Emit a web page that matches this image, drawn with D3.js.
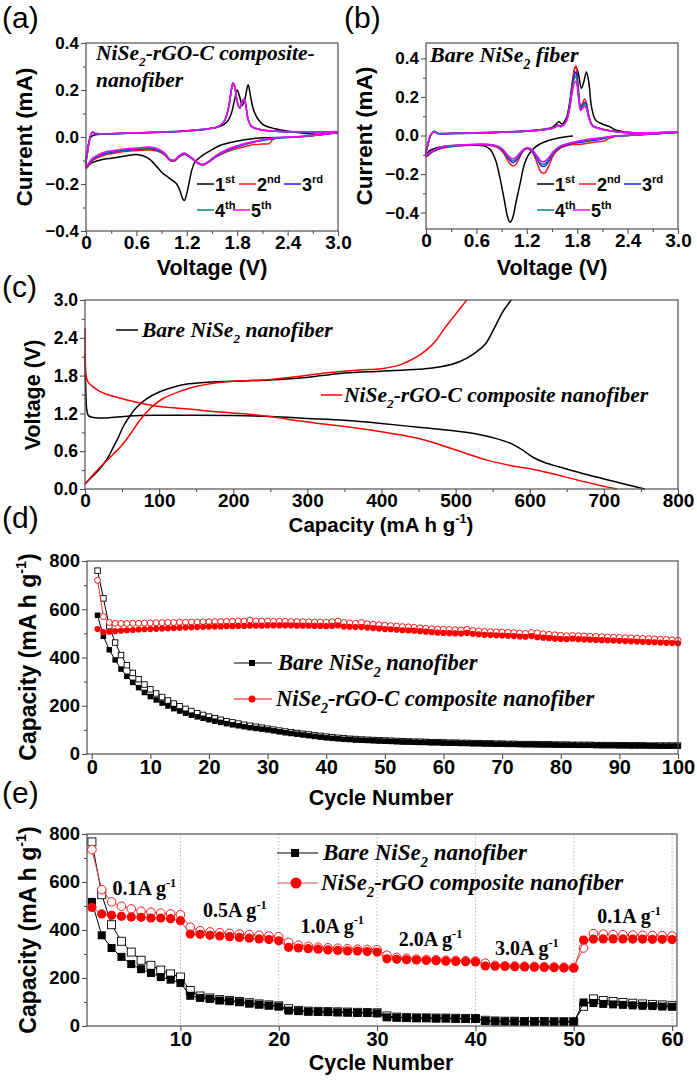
<!DOCTYPE html>
<html><head><meta charset="utf-8">
<script src="https://cdn.jsdelivr.net/npm/d3@7"></script>
<style>
body{margin:0;background:#fff}
svg text{font-family:Arial,"Liberation Sans",sans-serif}
</style></head><body>
<svg id="fig" width="697" height="1081"></svg>
<script>
// ---------------- DATA ----------------
// Panel (a): NiSe2-rGO-C composite CV, cycles 1..5 : [voltage V, current mA]
const cvA1=[[2.3,-0.002],[2.0,-0.006],[1.76,-0.02],[1.6,-0.035],[1.52,-0.05],[1.4,-0.075],[1.3,-0.105],[1.26,-0.14],[1.23,-0.19],[1.2,-0.24],[1.17,-0.27],[1.15,-0.262],[1.12,-0.23],[1.08,-0.2],[1.04,-0.188],[0.98,-0.172],[0.9,-0.15],[0.84,-0.125],[0.76,-0.095],[0.68,-0.08],[0.6,-0.074],[0.45,-0.082],[0.3,-0.09],[0.17,-0.098],[0.08,-0.108],[0.0,-0.125],
 [0.02,-0.05],[0.05,-0.005],[0.08,0.006],[0.15,0.011],[0.4,0.015],[0.8,0.02],[1.2,0.027],[1.45,0.035],[1.6,0.046],[1.68,0.065],[1.73,0.1],[1.77,0.16],[1.8,0.2],[1.83,0.17],[1.86,0.135],[1.89,0.16],[1.93,0.222],[1.96,0.17],[2.0,0.11],[2.06,0.07],[2.12,0.05],[2.25,0.035],[2.45,0.022],[2.75,0.012],[3.0,0.017]];
const cvA2=[[3.0,0.02],[2.8,0.01],[2.5,0.0],[2.28,-0.003],[2.22,-0.012],[2.18,-0.028],[2.1,-0.03],[2.0,-0.032],[1.85,-0.045],[1.7,-0.06],[1.55,-0.085],[1.45,-0.11],[1.39,-0.12],[1.33,-0.112],[1.25,-0.09],[1.17,-0.075],[1.11,-0.085],[1.05,-0.103],[1.0,-0.1],[0.93,-0.075],[0.85,-0.06],[0.75,-0.055],[0.6,-0.058],[0.4,-0.065],[0.2,-0.08],[0.08,-0.1],[0,-0.135],
 [0.02,-0.06],[0.05,0.0],[0.08,0.02],[0.11,0.015],[0.2,0.013],[0.5,0.016],[0.9,0.02],[1.2,0.025],[1.45,0.034],[1.58,0.045],[1.65,0.07],[1.7,0.13],[1.73,0.2],[1.75,0.226],[1.77,0.213],[1.8,0.15],[1.83,0.125],[1.86,0.15],[1.88,0.16],[1.9,0.14],[1.93,0.075],[1.97,0.045],[2.1,0.03],[2.4,0.022],[2.8,0.02],[3.0,0.022]];
const cvA3=[[3.0,0.02],[2.8,0.01],[2.5,0.0],[2.3,-0.004],[2.15,-0.012],[2.0,-0.022],[1.85,-0.036],[1.7,-0.055],[1.55,-0.082],[1.45,-0.108],[1.39,-0.118],[1.33,-0.11],[1.25,-0.088],[1.17,-0.072],[1.11,-0.082],[1.05,-0.1],[1.0,-0.097],[0.93,-0.07],[0.85,-0.055],[0.75,-0.05],[0.6,-0.053],[0.4,-0.06],[0.2,-0.074],[0.08,-0.095],[0,-0.128],
 [0.02,-0.06],[0.05,0.0],[0.08,0.02],[0.11,0.015],[0.2,0.013],[0.5,0.016],[0.9,0.02],[1.2,0.025],[1.45,0.034],[1.58,0.045],[1.65,0.07],[1.7,0.13],[1.73,0.2],[1.75,0.228],[1.77,0.215],[1.8,0.15],[1.83,0.123],[1.86,0.15],[1.88,0.16],[1.9,0.14],[1.93,0.075],[1.97,0.045],[2.1,0.03],[2.4,0.022],[2.8,0.02],[3.0,0.022]];
const cvA4=[[3.0,0.02],[2.8,0.01],[2.5,0.0],[2.3,-0.003],[2.15,-0.01],[2.0,-0.02],[1.85,-0.034],[1.7,-0.052],[1.55,-0.08],[1.45,-0.107],[1.39,-0.118],[1.33,-0.11],[1.25,-0.087],[1.17,-0.07],[1.11,-0.08],[1.05,-0.099],[1.0,-0.096],[0.93,-0.068],[0.85,-0.052],[0.75,-0.046],[0.6,-0.05],[0.4,-0.057],[0.2,-0.07],[0.08,-0.093],[0,-0.126],
 [0.02,-0.06],[0.05,0.0],[0.08,0.02],[0.11,0.015],[0.2,0.013],[0.5,0.016],[0.9,0.02],[1.2,0.025],[1.45,0.034],[1.58,0.045],[1.65,0.07],[1.7,0.13],[1.73,0.2],[1.75,0.23],[1.77,0.216],[1.8,0.15],[1.83,0.122],[1.86,0.15],[1.88,0.161],[1.9,0.14],[1.93,0.075],[1.97,0.045],[2.1,0.03],[2.4,0.022],[2.8,0.02],[3.0,0.022]];
const cvA5=[[3.0,0.021],[2.8,0.011],[2.5,0.001],[2.3,-0.002],[2.15,-0.009],[2.0,-0.019],[1.85,-0.032],[1.7,-0.05],[1.55,-0.078],[1.45,-0.106],[1.39,-0.117],[1.33,-0.109],[1.25,-0.086],[1.17,-0.068],[1.11,-0.079],[1.05,-0.098],[1.0,-0.095],[0.93,-0.066],[0.85,-0.05],[0.75,-0.043],[0.6,-0.047],[0.4,-0.054],[0.2,-0.067],[0.08,-0.09],[0,-0.124],
 [0.02,-0.06],[0.05,0.0],[0.08,0.021],[0.11,0.016],[0.2,0.014],[0.5,0.017],[0.9,0.021],[1.2,0.026],[1.45,0.035],[1.58,0.046],[1.65,0.07],[1.7,0.13],[1.73,0.2],[1.75,0.232],[1.77,0.218],[1.8,0.15],[1.83,0.122],[1.86,0.15],[1.88,0.162],[1.9,0.14],[1.93,0.075],[1.97,0.045],[2.1,0.03],[2.4,0.023],[2.8,0.021],[3.0,0.023]];

// Panel (b): bare NiSe2 fiber CV, cycles 1..5
const cvB1=[[1.75,-0.003],[1.55,-0.015],[1.4,-0.035],[1.3,-0.06],[1.22,-0.1],[1.17,-0.15],[1.12,-0.25],[1.07,-0.35],[1.03,-0.43],[1.0,-0.45],[0.97,-0.42],[0.93,-0.33],[0.88,-0.22],[0.83,-0.13],[0.77,-0.075],[0.7,-0.055],[0.55,-0.05],[0.4,-0.05],[0.25,-0.055],[0.12,-0.065],[0.04,-0.08],[0,-0.1],
 [0.02,-0.05],[0.06,0.005],[0.1,0.022],[0.14,0.012],[0.3,0.012],[0.7,0.016],[1.1,0.022],[1.4,0.033],[1.5,0.042],[1.55,0.06],[1.58,0.072],[1.62,0.06],[1.67,0.09],[1.71,0.17],[1.75,0.3],[1.78,0.355],[1.81,0.33],[1.85,0.245],[1.88,0.28],[1.91,0.33],[1.94,0.27],[1.97,0.15],[2.02,0.08],[2.1,0.06],[2.19,0.045],[2.25,0.03],[2.4,0.017],[2.7,0.01],[3.0,0.016]];
const cvB2=[[3.0,0.018],[2.7,0.008],[2.4,0.0],[2.25,-0.005],[2.18,-0.015],[2.12,-0.028],[2.0,-0.035],[1.85,-0.045],[1.7,-0.05],[1.6,-0.065],[1.52,-0.1],[1.46,-0.16],[1.41,-0.195],[1.37,-0.19],[1.32,-0.14],[1.27,-0.09],[1.22,-0.07],[1.17,-0.075],[1.12,-0.11],[1.07,-0.15],[1.03,-0.158],[0.98,-0.135],[0.92,-0.09],[0.85,-0.062],[0.75,-0.05],[0.55,-0.05],[0.35,-0.055],[0.2,-0.065],[0.08,-0.085],[0,-0.11],
 [0.02,-0.05],[0.06,0.005],[0.1,0.02],[0.14,0.01],[0.3,0.01],[0.7,0.014],[1.1,0.02],[1.4,0.03],[1.52,0.04],[1.57,0.055],[1.61,0.05],[1.66,0.07],[1.7,0.13],[1.74,0.26],[1.77,0.35],[1.785,0.362],[1.8,0.32],[1.82,0.22],[1.84,0.15],[1.86,0.165],[1.89,0.19],[1.91,0.17],[1.94,0.1],[1.98,0.055],[2.05,0.04],[2.2,0.025],[2.5,0.013],[3.0,0.018]];
const cvB3=[[3.0,0.018],[2.7,0.008],[2.4,0.0],[2.25,-0.004],[2.15,-0.012],[2.08,-0.02],[2.0,-0.025],[1.85,-0.035],[1.7,-0.045],[1.6,-0.06],[1.52,-0.09],[1.46,-0.135],[1.41,-0.16],[1.37,-0.156],[1.32,-0.12],[1.27,-0.083],[1.22,-0.067],[1.17,-0.072],[1.12,-0.1],[1.07,-0.132],[1.03,-0.14],[0.98,-0.12],[0.92,-0.082],[0.85,-0.058],[0.75,-0.048],[0.55,-0.048],[0.35,-0.053],[0.2,-0.062],[0.08,-0.082],[0,-0.105],
 [0.02,-0.05],[0.06,0.005],[0.1,0.02],[0.14,0.01],[0.3,0.01],[0.7,0.014],[1.1,0.02],[1.4,0.03],[1.52,0.04],[1.57,0.053],[1.61,0.048],[1.66,0.068],[1.7,0.125],[1.74,0.245],[1.77,0.32],[1.785,0.33],[1.8,0.29],[1.82,0.2],[1.84,0.14],[1.86,0.152],[1.89,0.172],[1.91,0.155],[1.94,0.095],[1.98,0.053],[2.05,0.038],[2.2,0.024],[2.5,0.013],[3.0,0.018]];
const cvB4=[[3.0,0.018],[2.7,0.008],[2.4,0.0],[2.25,-0.003],[2.15,-0.01],[2.0,-0.02],[1.85,-0.03],[1.7,-0.042],[1.6,-0.057],[1.52,-0.085],[1.46,-0.125],[1.41,-0.148],[1.37,-0.145],[1.32,-0.112],[1.27,-0.08],[1.22,-0.066],[1.17,-0.07],[1.12,-0.095],[1.07,-0.122],[1.03,-0.13],[0.98,-0.112],[0.92,-0.078],[0.85,-0.056],[0.75,-0.047],[0.55,-0.047],[0.35,-0.052],[0.2,-0.06],[0.08,-0.08],[0,-0.102],
 [0.02,-0.05],[0.06,0.005],[0.1,0.02],[0.14,0.01],[0.3,0.01],[0.7,0.014],[1.1,0.02],[1.4,0.03],[1.52,0.04],[1.57,0.052],[1.61,0.047],[1.66,0.066],[1.7,0.12],[1.74,0.235],[1.77,0.3],[1.785,0.31],[1.8,0.275],[1.82,0.19],[1.84,0.135],[1.86,0.145],[1.89,0.162],[1.91,0.148],[1.94,0.092],[1.98,0.052],[2.05,0.038],[2.2,0.024],[2.5,0.013],[3.0,0.018]];
const cvB5=[[3.0,0.019],[2.7,0.009],[2.4,0.001],[2.25,-0.002],[2.15,-0.008],[2.0,-0.016],[1.85,-0.026],[1.7,-0.04],[1.6,-0.054],[1.52,-0.08],[1.46,-0.115],[1.41,-0.135],[1.37,-0.133],[1.32,-0.105],[1.27,-0.077],[1.22,-0.064],[1.17,-0.068],[1.12,-0.09],[1.07,-0.113],[1.03,-0.12],[0.98,-0.105],[0.92,-0.074],[0.85,-0.054],[0.75,-0.046],[0.55,-0.046],[0.35,-0.05],[0.2,-0.058],[0.08,-0.078],[0,-0.1],
 [0.02,-0.05],[0.06,0.006],[0.1,0.021],[0.14,0.011],[0.3,0.011],[0.7,0.015],[1.1,0.021],[1.4,0.031],[1.52,0.041],[1.57,0.051],[1.61,0.046],[1.66,0.064],[1.7,0.115],[1.74,0.22],[1.77,0.275],[1.785,0.282],[1.8,0.255],[1.82,0.18],[1.84,0.13],[1.86,0.138],[1.89,0.152],[1.91,0.14],[1.94,0.088],[1.98,0.05],[2.05,0.037],[2.2,0.024],[2.5,0.014],[3.0,0.019]];

// Panel (c): charge/discharge profiles : [capacity mAh/g, voltage V]
const bareDis=[[0,2.15],[1,1.6],[2.5,1.25],[5,1.16],[15,1.13],[30,1.13],[60,1.16],[100,1.17],[150,1.17],[200,1.165],[250,1.15],[300,1.12],[350,1.09],[400,1.04],[450,0.98],[500,0.92],[530,0.87],[555,0.8],[575,0.72],[590,0.62],[605,0.5],[620,0.42],[640,0.35],[670,0.25],[700,0.16],[730,0.07],[755,0.0]];
const bareCha=[[0,0.08],[10,0.2],[20,0.32],[30,0.48],[38,0.66],[45,0.82],[52,1.0],[60,1.15],[70,1.3],[83,1.43],[100,1.54],[120,1.62],[140,1.67],[170,1.7],[200,1.71],[250,1.73],[290,1.76],[320,1.8],[350,1.84],[400,1.87],[450,1.9],[480,1.94],[505,2.02],[525,2.15],[540,2.3],[552,2.55],[563,2.8],[575,3.0]];
const compDis=[[0,2.55],[0.5,2.0],[1.5,1.8],[4,1.7],[11,1.62],[20,1.55],[30,1.5],[45,1.45],[61,1.4],[80,1.35],[106,1.3],[140,1.27],[173,1.23],[218,1.19],[250,1.15],[290,1.08],[330,1.02],[365,0.97],[400,0.91],[425,0.86],[450,0.8],[485,0.68],[515,0.56],[545,0.45],[575,0.37],[605,0.31],[635,0.23],[665,0.14],[690,0.07],[705,0.03],[718,0.0]];
const compCha=[[0,0.08],[20,0.34],[38,0.55],[50,0.7],[61,0.87],[72,1.06],[83,1.22],[95,1.35],[106,1.44],[128,1.55],[151,1.63],[173,1.68],[200,1.71],[218,1.72],[250,1.74],[290,1.79],[330,1.85],[370,1.89],[400,1.91],[425,1.97],[445,2.08],[460,2.2],[473,2.35],[485,2.55],[495,2.7],[505,2.85],[515,3.0]];

// Panel (d): cycling, cycles 1..100 (mAh/g)
const bareCycD=[575,488,432,390,352,322,297,275,255,238,224,211,199,188,178,169,161,154,148,142,136,131,126,121,117,113,109,106,103,100,96,92,88,85,82,79,76,73,70,67,65,63,61,60,58,57,56,55,54,53,52,51,50,50,49,48,48,47,47,46,45,45,44,44,43,43,42,42,41,41,40,40,40,39,39,39,38,38,38,37,37,37,36,36,36,36,35,35,35,35,35,34,34,34,34,34,33,33,33,33];
const bareCycC=[760,645,530,462,410,368,336,310,288,268,251,236,222,209,198,187,178,169,162,155,148,142,136,131,126,121,117,113,109,105,101,97,93,90,87,84,81,78,75,72,70,67,65,63,62,60,59,58,57,56,55,54,53,52,51,51,50,49,49,48,47,47,46,46,45,45,44,44,43,43,42,42,41,41,41,40,40,40,39,39,39,38,38,38,38,37,37,37,37,36,36,36,36,36,35,35,35,35,35,35];
const compCycD=[518,505,507,509,511,513,514,516,517,518,519,520,521,522,523,524,525,526,527,528,529,529,530,530,531,531,532,532,532,533,533,533,533,533,532,532,532,531,531,530,531,533,528,527,526,526,524,522,520,518,517,515,513,512,511,509,507,505,503,502,501,500,499,502,498,496,494,493,492,491,490,489,487,486,489,484,482,480,478,477,476,478,476,475,474,473,472,471,470,469,468,467,466,465,464,463,462,461,460,459];
const compCycC=[720,570,545,542,541,541,542,542,543,543,544,544,545,545,546,546,547,547,548,548,549,549,550,550,551,551,555,551,551,551,550,550,550,549,549,548,548,547,547,546,548,551,545,543,542,545,540,538,536,534,532,530,528,527,525,523,521,519,518,517,516,515,514,517,512,510,508,507,506,505,504,503,501,500,504,502,498,496,494,492,490,491,490,489,488,487,486,485,484,483,482,481,480,479,478,477,476,475,473,471];

// Panel (e): rate capability, cycles 1..60 (mAh/g)
const bareRateD=[517,378,325,288,258,237,221,204,193,179,126,117,113,106,103,99,93,89,85,81,64,62,60,59,58,57,56,55,54,53,36,35,34,33,33,32,32,31,30,30,21,20,19,19,18,18,18,17,17,17,98,96,92,90,88,86,84,83,81,80];
const bareRateC=[767,547,422,353,308,274,253,233,217,204,148,125,117,110,106,102,97,92,88,84,72,65,62,61,60,59,58,57,56,55,42,37,35,34,34,33,33,32,31,31,24,21,20,20,19,19,19,18,18,18,82,113,106,102,98,95,92,90,88,86];
const compRateD=[494,467,461,457,454,453,450,450,447,439,383,382,378,375,372,369,366,363,360,355,328,325,322,320,317,315,313,312,310,308,280,278,276,275,273,272,270,269,268,267,250,249,248,247,246,245,244,243,242,241,358,362,363,363,363,362,362,361,361,360];
const compRateC=[735,568,517,499,488,478,474,470,467,464,412,397,392,389,386,383,381,378,375,372,348,337,332,328,326,324,322,320,319,318,295,286,282,279,277,276,274,273,272,271,262,253,251,250,249,248,247,246,245,244,325,385,383,381,380,379,378,377,376,375];
const rateLabels=[["0.1A g",3.1,546],["0.5A g",12.3,454],["1.0A g",22.2,388],["2.0A g",32.2,333],["3.0A g",42.0,296],["0.1A g",52.4,429]];

// tick labels / values
const cvXTicks=[0,0.6,1.2,1.8,2.4,3.0], cvXMinor=[0.3,0.9,1.5,2.1,2.7];
const cvYTicks=[-0.4,-0.2,0,0.2,0.4], cvYMinor=[-0.3,-0.1,0.1,0.3];
const gcdXTicks=[0,100,200,300,400,500,600,700,800], gcdXMinor=[50,150,250,350,450,550,650,750];
const gcdYTicks=[0,0.6,1.2,1.8,2.4,3.0], gcdYMinor=[0.3,0.9,1.5,2.1,2.7];
const cycXTicks=[0,10,20,30,40,50,60,70,80,90,100];
const capYTicks=[0,200,400,600,800], capYMinor=[100,300,500,700];
const rateXTicks=[10,20,30,40,50,60];
const cycleNames=[["1","st"],["2","nd"],["3","rd"],["4","th"],["5","th"]];
const cycleColors=["#000000","#ff1a1a","#1a1aff","#00897b","#ff00ff"];

// ---------------- DRAWING ----------------
const svg=d3.select('#fig');
svg.append('rect').attr('width',697).attr('height',1081).attr('fill','#fff');
const SERIF='"Times New Roman","Liberation Serif",serif';
const FRAME='#505050';

function rich(g,x,y,parts,o){
  const t=g.append('text').attr('x',x).attr('y',y)
    .attr('font-size',o.size).attr('font-weight',o.weight||'bold')
    .attr('font-style',o.style||'normal').attr('fill',o.fill||'#000')
    .attr('text-anchor',o.anchor||'start');
  if(o.family) t.style('font-family',o.family);
  if(o.rotate) t.attr('transform',`rotate(-90,${x},${y})`);
  let shift=0;
  parts.forEach(p=>{
    const s=typeof p==='string'?{t:p}:p;
    const ts=t.append('tspan').text(s.t);
    let target=0;
    if(s.sub) target=o.size*0.3;
    if(s.sup) target=-o.size*0.42;
    if(s.sub||s.sup) ts.attr('font-size',o.size*0.62);
    ts.attr('dy',target-shift); shift=target;
  });
  return t;
}

function panel(o){
  const g=svg.append('g');
  const x=d3.scaleLinear().domain(o.xd).range([o.L,o.R]);
  const y=d3.scaleLinear().domain(o.yd).range([o.B,o.T]);
  const style=(sel,fs)=>{sel.select('.domain').remove();
    sel.selectAll('line').attr('stroke',FRAME).attr('stroke-width',1.1);
    sel.selectAll('text').attr('font-size',fs).attr('font-weight','bold').attr('fill','#000')
      .style('font-family','Arial,"Liberation Sans",sans-serif');};
  if(o.grid){
    g.selectAll('.grid').data(o.grid).join('line').attr('x1',d=>x(d)).attr('x2',d=>x(d))
      .attr('y1',o.T).attr('y2',o.B).attr('stroke','#b8b8b8').attr('stroke-width',1).attr('stroke-dasharray','1.5,2');
  }
  g.append('g').attr('transform',`translate(0,${o.B})`)
    .call(d3.axisBottom(x).tickValues(o.xt).tickFormat(o.xf).tickSizeOuter(0).tickSize(5).tickPadding(o.xpad!=null?o.xpad:1))
    .call(s=>style(s,o.xfs));
  if(o.xm) g.append('g').attr('transform',`translate(0,${o.B})`)
    .call(d3.axisBottom(x).tickValues(o.xm).tickFormat('').tickSizeOuter(0).tickSize(3)).call(s=>style(s,10));
  g.append('g').attr('transform',`translate(${o.L},0)`)
    .call(d3.axisLeft(y).tickValues(o.yt).tickFormat(o.yf).tickSizeOuter(0).tickSize(5).tickPadding(2))
    .call(s=>style(s,o.yfs));
  if(o.ym) g.append('g').attr('transform',`translate(${o.L},0)`)
    .call(d3.axisLeft(y).tickValues(o.ym).tickFormat('').tickSizeOuter(0).tickSize(3)).call(s=>style(s,10));
  const plot=g.append('g');
  g.append('rect').attr('x',o.L).attr('y',o.T).attr('width',o.R-o.L).attr('height',o.B-o.T)
    .attr('fill','none').attr('stroke',FRAME).attr('stroke-width',1.2);
  return {g,plot,x,y};
}
const f1=d=>d===0?'0':d3.format('.1f')(d);
const f1y=d3.format('.1f');
const fd=d3.format('d');

// ---- panel (a) & (b)
function cvPanel(o,cycles){
  const p=panel(Object.assign({xd:[0,3],xt:cvXTicks,xm:cvXMinor,yt:cvYTicks,ym:cvYMinor,xf:f1,yf:f1y,xfs:19,yfs:17,xpad:0},o));
  const line=d3.line().x(d=>p.x(d[0])).y(d=>p.y(d[1])).curve(d3.curveCatmullRom.alpha(0.5));
  cycles.forEach((c,i)=>p.plot.append('path').attr('d',line(c)).attr('fill','none')
    .attr('stroke',cycleColors[i]).attr('stroke-width',1.5));
  const lx=[[o.L+111,184],[o.L+153,184],[o.L+198,184],[o.L+111,210],[o.L+147,210]];
  cycleNames.forEach((n,i)=>{
    const [x0,y0]=lx[i];
    p.g.append('line').attr('x1',x0).attr('x2',x0+17).attr('y1',y0).attr('y2',y0).attr('stroke',cycleColors[i]).attr('stroke-width',1.5);
    rich(p.g,x0+18,y0+6.5,[n[0],{t:n[1],sup:true}],{size:18});
  });
  rich(p.g,(o.L+o.R)/2,275,['Voltage (V)'],{size:21.5,anchor:'middle'});
  rich(p.g,o.L-54,(o.T+o.B)/2,['Current (mA)'],{size:22.5,anchor:'middle',rotate:true});
  return p;
}
const pa=cvPanel({L:86,R:338,T:43,B:231,yd:[-0.4,0.4]},[cvA1,cvA2,cvA3,cvA4,cvA5]);
rich(pa.g,96,60,['NiSe',{t:'2',sub:true},'-rGO-C composite-'],{size:21.5,style:'italic',family:SERIF});
rich(pa.g,96,87,['nanofiber'],{size:21.5,style:'italic',family:SERIF});
const pb=cvPanel({L:426,R:678,T:43,B:229,yd:[-0.485,0.48]},[cvB1,cvB2,cvB3,cvB4,cvB5]);
rich(pb.g,430,62,['Bare NiSe',{t:'2',sub:true},' fiber'],{size:22,style:'italic',family:SERIF});

// ---- panel (c)
const pc=panel({L:85,R:678,T:300,B:489,xd:[0,800],yd:[0,3],xt:gcdXTicks,xm:gcdXMinor,yt:gcdYTicks,ym:gcdYMinor,xf:fd,yf:f1y,xfs:19,yfs:17.5,xpad:0});
{
  const lineY=d3.line().x(d=>pc.x(d[0])).y(d=>pc.y(d[1])).curve(d3.curveCatmullRom.alpha(0.5));
  [[bareDis,'#000'],[bareCha,'#000'],[compDis,'#ff0000'],[compCha,'#ff0000']].forEach(([d,c])=>
    pc.plot.append('path').attr('d',lineY(d)).attr('fill','none').attr('stroke',c).attr('stroke-width',1.5));
  pc.g.append('line').attr('x1',116).attr('x2',138).attr('y1',330).attr('y2',330).attr('stroke','#000').attr('stroke-width',1.5);
  rich(pc.g,142,337,['Bare NiSe',{t:'2',sub:true},' nanofiber'],{size:21.5,style:'italic',family:SERIF});
  pc.g.append('line').attr('x1',321).attr('x2',342).attr('y1',395).attr('y2',395).attr('stroke','#ff0000').attr('stroke-width',1.5);
  rich(pc.g,344,402,['NiSe',{t:'2',sub:true},'-rGO-C composite nanofiber'],{size:21.5,style:'italic',family:SERIF});
  rich(pc.g,381,532,['Capacity (mA h g',{t:'-1',sup:true},')'],{size:20.5,anchor:'middle'});
  rich(pc.g,40,395,['Voltage (V)'],{size:21.5,anchor:'middle',rotate:true});
}

// marker helpers
function squares(p,xs,ys,size,filled){
  p.plot.selectAll(null).data(ys).join('rect')
    .attr('x',(d,i)=>p.x(xs[i])-size/2).attr('y',d=>p.y(d)-size/2).attr('width',size).attr('height',size)
    .attr('fill',filled?'#000':'#fff').attr('stroke','#000').attr('stroke-width',filled?0:0.9);
}
function circles(p,xs,ys,r,filled){
  p.plot.selectAll(null).data(ys).join('circle')
    .attr('cx',(d,i)=>p.x(xs[i])).attr('cy',d=>p.y(d)).attr('r',r)
    .attr('fill',filled?'#ff0000':'#fff').attr('stroke','#ff0000').attr('stroke-width',filled?0:0.9);
}
function series(p,ys,color){
  const xs=ys.map((d,i)=>i+1);
  p.plot.append('path').attr('d',d3.line().x((d,i)=>p.x(xs[i])).y(d=>p.y(d))(ys))
    .attr('fill','none').attr('stroke',color).attr('stroke-width',1);
  return xs;
}

// ---- panel (d)
const pd=panel({L:87,R:678,T:561,B:754,xd:[-0.8,100],yd:[0,800],xt:cycXTicks,yt:capYTicks,ym:capYMinor,xf:fd,yf:fd,xfs:20,yfs:18.5,xpad:1});
{
  let xs=series(pd,bareCycC,'#000'); squares(pd,xs,bareCycC,5.5,false);
  xs=series(pd,bareCycD,'#000'); squares(pd,xs,bareCycD,5.5,true);
  xs=series(pd,compCycC,'#ff3030'); circles(pd,xs,compCycC,3,false);
  xs=series(pd,compCycD,'#ff0000'); circles(pd,xs,compCycD,3.1,true);
  pd.g.append('line').attr('x1',234).attr('x2',272).attr('y1',663).attr('y2',663).attr('stroke','#000');
  pd.g.append('rect').attr('x',249).attr('y',660).attr('width',6).attr('height',6).attr('fill','#000');
  rich(pd.g,278,670,['Bare NiSe',{t:'2',sub:true},'  nanofiber'],{size:22.5,style:'italic',family:SERIF});
  pd.g.append('line').attr('x1',234).attr('x2',272).attr('y1',699).attr('y2',699).attr('stroke','#ff0000');
  pd.g.append('circle').attr('cx',252).attr('cy',699).attr('r',3.5).attr('fill','#ff0000');
  rich(pd.g,276,706,['NiSe',{t:'2',sub:true},'-rGO-C composite nanofiber'],{size:22.5,style:'italic',family:SERIF});
  rich(pd.g,381,805,['Cycle Number'],{size:21.5,anchor:'middle'});
  rich(pd.g,36,657,['Capacity (mA h g',{t:'-1',sup:true},')'],{size:23,anchor:'middle',rotate:true});
}

// ---- panel (e)
const pe=panel({L:87,R:677,T:834,B:1026,xd:[0.5,60.5],yd:[0,800],xt:rateXTicks,yt:capYTicks,ym:capYMinor,xf:fd,yf:fd,xfs:20,yfs:18.5,xpad:1,grid:rateXTicks});
{
  let xs=series(pe,bareRateC,'#000'); squares(pe,xs,bareRateC,8,false);
  xs=series(pe,bareRateD,'#000'); squares(pe,xs,bareRateD,8,true);
  xs=series(pe,compRateC,'#e04a4a'); circles(pe,xs,compRateC,4.3,false);
  xs=series(pe,compRateD,'#e04a4a'); circles(pe,xs,compRateD,4.6,true);
  pe.g.append('line').attr('x1',277).attr('x2',318).attr('y1',853).attr('y2',853).attr('stroke','#000');
  pe.g.append('rect').attr('x',291).attr('y',849).attr('width',8).attr('height',8).attr('fill','#000');
  rich(pe.g,323,860,['Bare NiSe',{t:'2',sub:true},' nanofiber'],{size:23,style:'italic',family:SERIF});
  pe.g.append('line').attr('x1',277).attr('x2',318).attr('y1',883).attr('y2',883).attr('stroke','#e04a4a');
  pe.g.append('circle').attr('cx',296).attr('cy',883).attr('r',5.5).attr('fill','#ff0000');
  rich(pe.g,321,890,['NiSe',{t:'2',sub:true},'-rGO composite nanofiber'],{size:23,style:'italic',family:SERIF});
  rateLabels.forEach(r=>rich(pe.g,pe.x(r[1]),pe.y(r[2]),[r[0],{t:'-1',sup:true}],{size:20,family:SERIF}));
  rich(pe.g,381,1070,['Cycle Number'],{size:21.5,anchor:'middle'});
  rich(pe.g,36,930,['Capacity (mA h g',{t:'-1',sup:true},')'],{size:23,anchor:'middle',rotate:true});
}

// panel letters
[['(a)',2,28],['(b)',344,28],['(c)',2,297],['(d)',2,528],['(e)',2,803]].forEach(l=>
  svg.append('text').attr('x',l[1]).attr('y',l[2]).attr('font-size',30).text(l[0]));
</script>
</body></html>
